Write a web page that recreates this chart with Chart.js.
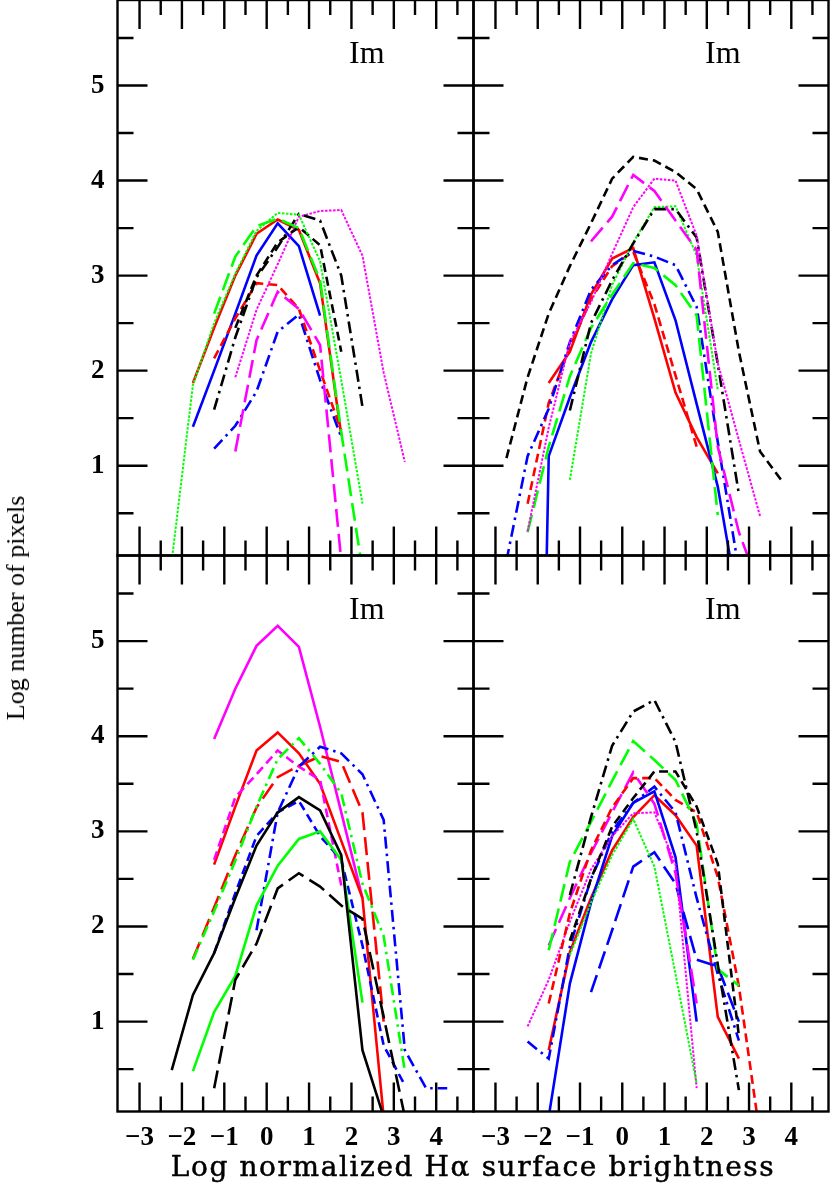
<!DOCTYPE html>
<html>
<head>
<meta charset="utf-8">
<script src="https://cdn.jsdelivr.net/npm/chart.js@4.4.0/dist/chart.umd.min.js"></script>
<style>
  html, body { margin: 0; padding: 0; background: #fff; }
  #fig { position: relative; width: 830px; height: 1184px; overflow: hidden; }
  #fig canvas { position: absolute; left: 0; top: 0; }
  .im { position: absolute; font-family: "Liberation Serif", serif; font-size: 32px; line-height: 32px; color: #000; }
  #ytitle { position: absolute; left: 16px; top: 608px; transform-origin: 0 0; transform: rotate(-90deg) translate(-50%, -50%);
            font-family: "Liberation Serif", serif; font-size: 26px; line-height: 26px; white-space: nowrap; color: #000; }
  #xtitle { position: absolute; left: 0; width: 946px; top: 1153px; text-align: center;
            font-family: "DejaVu Serif", serif; font-size: 28px; line-height: 28px; letter-spacing: 1.6px; white-space: nowrap;
            color: #000; -webkit-text-stroke: 0.5px #000; }
</style>
</head>
<body>
<div id="fig">
  <canvas id="pTL" width="830" height="1184"></canvas>
  <canvas id="pTR" width="830" height="1184"></canvas>
  <canvas id="pBL" width="830" height="1184"></canvas>
  <canvas id="pBR" width="830" height="1184"></canvas>
  <div class="im" style="left:349px; top:36px">Im</div>
  <div class="im" style="left:705px; top:36px">Im</div>
  <div class="im" style="left:349px; top:592px">Im</div>
  <div class="im" style="left:705px; top:592px">Im</div>
  <div id="ytitle">Log number of pixels</div>
  <div id="xtitle">Log normalized Hα surface brightness</div>
</div>
<script>
const _ = null;

// bin centres of log normalized Halpha surface brightness (shared by every curve)
const logSB = [-3.24, -2.74, -2.24, -1.74, -1.24, -0.74, -0.24, 0.26, 0.76, 1.26, 1.76, 2.26, 2.76, 3.26, 3.76, 4.26];

const xTicks = [-3, -2, -1, 0, 1, 2, 3, 4];
const xMinor = [-2.5, -1.5, -0.5, 0.5, 1.5, 2.5, 3.5, 4.5];
const yTicks = [1, 2, 3, 4, 5];
const yMinor = [0.5, 1.5, 2.5, 3.5, 4.5, 5.5];
const X_MIN = -3.52, X_MAX = 4.88;
const Y_MIN = 0.055, Y_MAX = 5.9;

// --- top left panel (log number of pixels)
const tlGreenDot     = [_, _, 0, 1.85, 2.5, 3.02, 3.47, 3.66, 3.64, 3.15, 1.9, 0.6, _, _, _, _];
const tlGreenLdash   = [_, _, _, _, 2.6, 3.2, 3.52, 3.6, 3.5, 2.95, 1.35, -0.1, _, _, _, _];
const tlRedSolid     = [_, _, _, 1.87, 2.45, 3.0, 3.44, 3.59, 3.48, 2.92, 1.32, _, _, _, _, _];
const tlRedDash      = [_, _, _, _, 2.13, 2.55, 2.92, 2.9, 2.65, 2.0, 1.37, _, _, _, _, _];
const tlBlueSolid    = [_, _, _, 1.41, 2.0, 2.6, 3.21, 3.55, 3.31, 2.58, _, _, _, _, _, _];
const tlBlueDashDot  = [_, _, _, _, 1.18, 1.42, 1.78, 2.41, 2.59, 1.9, 1.3, _, _, _, _, _];
const tlBlackDashDot = [_, _, _, _, 1.59, 2.35, 2.98, 3.3, 3.65, 3.58, 3.0, 1.62, _, _, _, _];
const tlBlackDash    = [_, _, _, _, _, 2.45, 3.0, 3.35, 3.51, 3.32, 2.2, _, _, _, _, _];
const tlMagentaDot   = [_, _, _, _, _, 1.93, 2.64, 3.12, 3.62, 3.68, 3.69, 3.21, 1.98, 1.04, _, _];
const tlMagentaLdash = [_, _, _, _, _, 1.15, 2.32, 2.83, 2.65, 2.27, 0, _, _, _, _, _];

// --- top right panel
const trBlackDash    = [_, 1.08, 1.93, 2.6, 3.1, 3.55, 4.02, 4.25, 4.21, 4.09, 3.91, 3.46, 2.2, 1.15, 0.85, _];
const trBlackDashDot = [_, _, _, _, 1.58, 2.5, 2.95, 3.34, 3.7, 3.7, 3.4, 2.07, 0.7, _, _, _];
const trMagentaLdash = [_, _, _, _, _, 3.36, 3.62, 4.06, 3.89, 3.58, 3.27, 1.2, 0.3, -0.3, _, _];
const trMagentaDot   = [_, _, 0.31, 1.4, 2.3, 2.72, 3.23, 3.72, 4.02, 4.0, 3.42, 2.08, 1.27, 0.47, _, _];
const trGreenDot     = [_, _, _, _, 0.85, 2.18, 2.9, 3.35, 3.72, 3.73, 3.21, 1.8, _, _, _, _];
const trGreenLdash   = [_, _, 0.3, 1.2, 1.94, 2.45, 2.8, 3.13, 3.08, 2.9, 2.58, 0.48, _, _, _, _];
const trRedSolid     = [_, _, _, 1.87, 2.2, 2.8, 3.18, 3.29, 2.55, 1.77, 1.3, 0.92, _, _, _, _];
const trRedDash      = [_, _, 0.6, 1.66, 2.25, 2.75, 3.1, 3.25, 2.7, 1.95, 1.2, _, _, _, _, _];
const trBlueDashDot  = [_, 0, 1.1, 1.6, 2.3, 2.85, 3.11, 3.26, 3.2, 3.11, 2.67, 1.25, -0.1, _, _, _];
const trBlueSolid    = [_, _, -10, 1.1, 1.72, 2.3, 2.75, 3.11, 3.14, 2.53, 1.65, 0.78, -0.5, _, _, _];

// --- bottom left panel
const blMagentaSolid = [_, _, _, _, 3.97, 4.5, 4.95, 5.16, 4.94, 4.1, 3.2, 2.3, _, _, _, _];
const blRedSolid     = [_, _, _, _, 2.65, 3.26, 3.85, 4.04, 3.82, 3.5, 2.9, 2.3, 0, _, _, _];
const blRedLdash     = [_, _, _, 1.66, 2.2, 2.75, 3.25, 3.57, 3.69, 3.79, 3.73, 3.2, 1.0, _, _, _];
const blGreenDashDot = [_, _, _, 1.65, 2.16, 2.69, 3.26, 3.76, 3.98, 3.71, 3.4, 2.45, 1.9, 0.48, _, _];
const blGreenSolid   = [_, _, _, 0.48, 1.1, 1.48, 2.22, 2.64, 2.92, 3.0, 2.7, 1.2, _, _, _, _];
const blMagentaDash  = [_, _, _, _, 2.7, 3.36, 3.6, 3.85, 3.68, 3.54, 2.43, _, _, _, _, _];
const blBlueDashDot  = [_, _, _, _, _, _, 1.96, 3.2, 3.68, 3.89, 3.82, 3.6, 3.12, 0.7, 0.3, 0.3];
const blBlueDash     = [_, _, _, _, 1.72, 2.35, 2.95, 3.2, 3.32, 2.95, 2.7, 1.8, 0.75, 0.33, _, _];
const blBlackSolid   = [_, _, 0.49, 1.28, 1.72, 2.3, 2.85, 3.2, 3.36, 3.22, 2.75, 0.7, 0, _, _, _];
const blBlackLdash   = [_, _, _, _, 0.3, 1.44, 1.82, 2.4, 2.56, 2.42, 2.22, 2.08, 1.05, 0, _, _];

// --- bottom right panel
const brBlackDashDot = [_, _, _, _, 2.33, 3.15, 3.9, 4.26, 4.38, 3.94, 3.0, 1.6, 0.28, _, _, _];
const brGreenLdash   = [_, _, _, 1.75, 2.68, 3.1, 3.53, 3.95, 3.75, 3.54, 3.08, 1.55, 1.38, _, _, _];
const brBlackDash    = [_, _, _, _, 1.85, 2.5, 3.05, 3.35, 3.63, 3.63, 3.26, 2.66, 0.85, _, _, _];
const brRedDash      = [_, _, _, 1.19, 2.14, 2.8, 3.25, 3.56, 3.56, 3.33, 3.2, 2.52, 1.37, -0.2, _, _];
const brMagentaLdash = [_, _, _, 1.8, 2.3, 2.77, 3.2, 3.62, 3.29, 2.56, 1.19, _, _, _, _, _];
const brMagentaDot   = [_, _, 0.95, 1.44, 2.05, 2.6, 2.95, 3.19, 3.2, 2.65, 0.3, _, _, _, _, _];
const brGreenDot     = [_, _, _, _, 1.7, 2.25, 2.75, 3.13, 2.63, 1.5, 0.35, _, _, _, _, _];
const brBlueSolid    = [_, _, _, 0, 1.4, 2.25, 2.95, 3.3, 3.42, 2.73, 1.0, _, _, _, _, _];
const brBlueDashDot  = [_, _, 0.79, 0.61, 1.79, 2.5, 3.0, 3.3, 3.47, 3.2, 2.3, 1.5, 0.8, _, _, _];
const brBlueLdash    = [_, _, _, _, _, 1.31, 1.96, 2.63, 2.78, 2.45, 1.65, 1.58, 1.0, _, _, _];
const brRedSolid     = [_, _, _, 0.7, 1.73, 2.3, 2.8, 3.15, 3.38, 3.17, 2.85, 1.05, 0.61, _, _, _];

const COLORS = { black: '#000000', red: '#ff0000', green: '#00ff00', blue: '#0000ff', magenta: '#ff00ff' };
const DASHES = { solid: [], dash: [9, 5], ldash: [18, 7], dashdot: [12, 5, 2.5, 5], dot: [2.5, 1.5] };
const WIDTHS = { solid: 2.6, dash: 2.6, ldash: 2.6, dashdot: 2.6, dot: 2 };

// panel boxes in page pixels: [left, top, right, bottom]
const panels = [
  { id: 'pTL', box: [117.5, 0, 473.5, 555.5], yLabels: true, xLabels: false, series: [
      ['green', 'dot', tlGreenDot], ['green', 'ldash', tlGreenLdash], ['black', 'dashdot', tlBlackDashDot],
      ['black', 'dash', tlBlackDash], ['magenta', 'dot', tlMagentaDot], ['magenta', 'ldash', tlMagentaLdash],
      ['red', 'dash', tlRedDash], ['blue', 'dashdot', tlBlueDashDot], ['blue', 'solid', tlBlueSolid], ['red', 'solid', tlRedSolid]] },
  { id: 'pTR', box: [473.5, 0, 828.5, 555.5], yLabels: false, xLabels: false, series: [
      ['black', 'dash', trBlackDash], ['magenta', 'ldash', trMagentaLdash], ['magenta', 'dot', trMagentaDot],
      ['black', 'dashdot', trBlackDashDot], ['green', 'dot', trGreenDot], ['green', 'ldash', trGreenLdash],
      ['blue', 'dashdot', trBlueDashDot], ['blue', 'solid', trBlueSolid], ['red', 'dash', trRedDash], ['red', 'solid', trRedSolid]] },
  { id: 'pBL', box: [117.5, 555.5, 473.5, 1111.5], yLabels: true, xLabels: true, series: [
      ['black', 'solid', blBlackSolid], ['black', 'ldash', blBlackLdash], ['green', 'solid', blGreenSolid],
      ['blue', 'dash', blBlueDash], ['blue', 'dashdot', blBlueDashDot], ['green', 'dashdot', blGreenDashDot],
      ['red', 'ldash', blRedLdash], ['magenta', 'dash', blMagentaDash], ['red', 'solid', blRedSolid], ['magenta', 'solid', blMagentaSolid]] },
  { id: 'pBR', box: [473.5, 555.5, 828.5, 1111.5], yLabels: false, xLabels: true, series: [
      ['black', 'dashdot', brBlackDashDot], ['black', 'dash', brBlackDash], ['green', 'ldash', brGreenLdash],
      ['green', 'dot', brGreenDot], ['red', 'dash', brRedDash], ['magenta', 'ldash', brMagentaLdash],
      ['magenta', 'dot', brMagentaDot], ['blue', 'ldash', brBlueLdash], ['blue', 'dashdot', brBlueDashDot],
      ['blue', 'solid', brBlueSolid], ['red', 'solid', brRedSolid]] }
];

const W = 830, H = 1184;
const Y_AXIS_W = 117.5, X_AXIS_H = 60;
const tickFont = { family: "'Liberation Serif', serif", size: 27, weight: 'bold' };
const minus = v => (v < 0 ? '\u2212' + Math.abs(v) : String(v));

// box with inward ticks on all four sides, like the original plot
const framePlugin = {
  id: 'frame',
  afterDraw(chart) {
    const { ctx, chartArea: a, scales } = chart;
    const x = scales.x, y = scales.y;
    ctx.save();
    ctx.strokeStyle = '#000';
    ctx.lineWidth = 2.4;
    ctx.beginPath();
    const vTick = (v, len) => {
      const px = x.getPixelForValue(v);
      ctx.moveTo(px, a.top); ctx.lineTo(px, a.top + len);
      ctx.moveTo(px, a.bottom); ctx.lineTo(px, a.bottom - len);
    };
    const hTick = (v, len) => {
      const py = y.getPixelForValue(v);
      ctx.moveTo(a.left, py); ctx.lineTo(a.left + len, py);
      ctx.moveTo(a.right, py); ctx.lineTo(a.right - len, py);
    };
    xTicks.forEach(v => vTick(v, 29));
    xMinor.forEach(v => vTick(v, 15));
    yTicks.forEach(v => hTick(v, 30));
    yMinor.forEach(v => hTick(v, 16));
    ctx.stroke();
    ctx.strokeRect(a.left, a.top, a.right - a.left, a.bottom - a.top);
    ctx.restore();
  }
};

// fixed axis sizes, no extra label padding, so every panel lands on its box
const fixSize = (prop, size) => s => {
  s[prop] = size;
  s.paddingTop = 0; s.paddingBottom = 0; s.paddingLeft = 0; s.paddingRight = 0;
};

panels.forEach(p => {
  const [bl, bt, br, bb] = p.box;
  const datasets = p.series.map(([col, sty, vals]) => ({
    data: logSB.map((x, i) => ({ x: x, y: vals[i] })).filter(pt => pt.y !== null),
    borderColor: COLORS[col],
    borderDash: DASHES[sty],
    borderWidth: WIDTHS[sty],
    pointRadius: 0,
    fill: false,
    tension: 0,
    clip: 0
  }));

  new Chart(document.getElementById(p.id), {
    type: 'line',
    data: { datasets },
    plugins: [framePlugin],
    options: {
      responsive: false,
      animation: false,
      events: [],
      layout: { padding: {
        left: p.yLabels ? bl - Y_AXIS_W : bl,
        right: W - br,
        top: bt,
        bottom: p.xLabels ? H - bb - X_AXIS_H : H - bb
      } },
      plugins: { legend: { display: false }, tooltip: { enabled: false } },
      scales: {
        x: {
          type: 'linear', min: X_MIN, max: X_MAX, display: p.xLabels,
          grid: { display: false, drawTicks: false }, border: { display: false },
          ticks: { stepSize: 1, includeBounds: false, autoSkip: false, maxRotation: 0,
                   font: tickFont, color: '#000', padding: 10, callback: minus },
          afterFit: p.xLabels ? fixSize('height', X_AXIS_H) : fixSize('height', 0)
        },
        y: {
          type: 'linear', min: Y_MIN, max: Y_MAX, display: p.yLabels,
          grid: { display: false, drawTicks: false }, border: { display: false },
          ticks: { stepSize: 1, includeBounds: false, autoSkip: false,
                   font: tickFont, color: '#000', padding: 13, callback: minus },
          afterFit: p.yLabels ? fixSize('width', Y_AXIS_W) : fixSize('width', 0)
        }
      }
    }
  });
});
</script>
</body>
</html>
